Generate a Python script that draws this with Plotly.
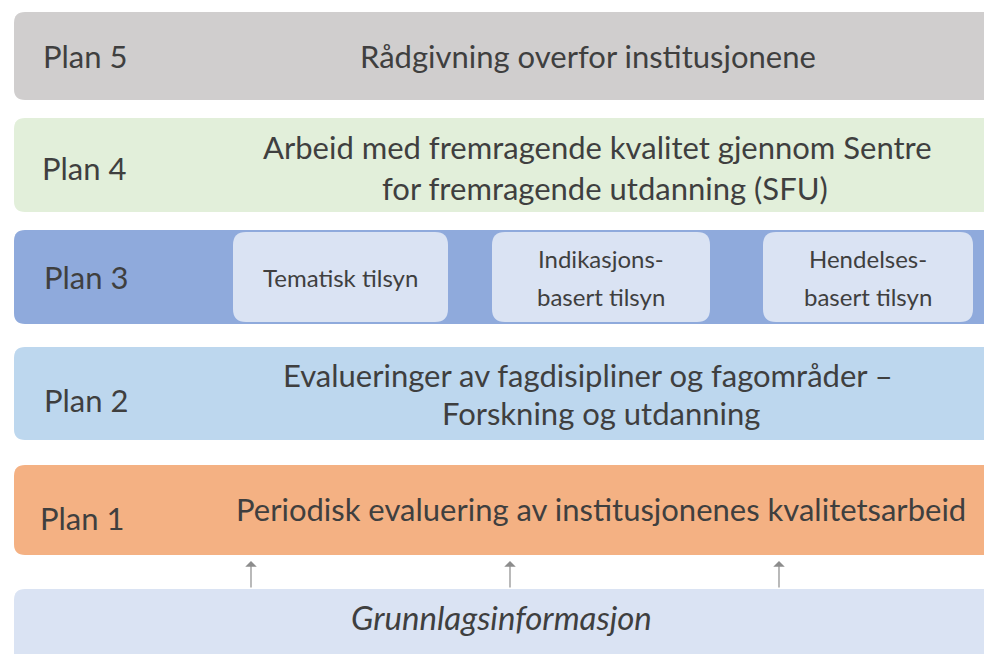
import plotly.graph_objects as go

# ---- content ----
plan_labels = ["Plan 5", "Plan 4", "Plan 3", "Plan 2", "Plan 1"]
plan_lines = [
    ["Rådgivning overfor institusjonene"],
    ["Arbeid med fremragende kvalitet gjennom Sentre", "for fremragende utdanning (SFU)"],
    [],
    ["Evalueringer av fagdisipliner og fagområder –", "Forskning og utdanning"],
    ["Periodisk evaluering av institusjonenes kvalitetsarbeid"],
]
plan3_items = [["Tematisk tilsyn"], ["Indikasjons-", "basert tilsyn"], ["Hendelses-", "basert tilsyn"]]
base_text = "Grunnlagsinformasjon"

# ---- styles / layout ----
row_colors = ["#D0CECE", "#E2EFDA", "#8FAADC", "#BDD7EE", "#F4B183"]
row_top = [12, 118, 230, 347, 465]
row_bot = [100, 212, 324, 440, 555]
label_x = [41, 40, 42, 42, 38]
label_y = [56, 168, 277, 400, 518]
line_pos = [
    [(588, 56)],
    [(597, 147), (605, 188)],
    [],
    [(588, 375), (601, 413)],
    [(601, 509)],
]
sub_x = [(233, 448), (492, 710), (763, 973)]
sub_y = (232, 322)
sub_color = "#DAE3F3"
base_box = (14, 589, 1000, 680)
arrow_x = [251, 510, 779]
arrow_y = (589, 561)
FONT = "Lato"
TXT = "#3F3F3F"


def rrect(x0, y0, x1, y1, r):
    return (f"M {x0+r},{y0} L {x1-r},{y0} Q {x1},{y0} {x1},{y0+r} "
            f"L {x1},{y1-r} Q {x1},{y1} {x1-r},{y1} L {x0+r},{y1} "
            f"Q {x0},{y1} {x0},{y1-r} L {x0},{y0+r} Q {x0},{y0} {x0+r},{y0} Z")


shapes = []
ann = []
for i, lab in enumerate(plan_labels):
    shapes.append(dict(type="path", path=rrect(14, row_top[i], 1000, row_bot[i], 11),
                       fillcolor=row_colors[i], line=dict(width=0), layer="below"))
    ann.append(dict(x=label_x[i], y=label_y[i], text=lab, xanchor="left", yanchor="middle",
                    showarrow=False, font=dict(family=FONT, size=31, color=TXT)))
    for txt, (cx, cy) in zip(plan_lines[i], line_pos[i]):
        ann.append(dict(x=cx, y=cy, text=txt, xanchor="center", yanchor="middle",
                        showarrow=False, font=dict(family=FONT, size=31, color=TXT)))

for (x0, x1), lines in zip(sub_x, plan3_items):
    shapes.append(dict(type="path", path=rrect(x0, sub_y[0], x1, sub_y[1], 13),
                       fillcolor=sub_color, line=dict(width=0)))
    cx = (x0 + x1) / 2
    cy = (sub_y[0] + sub_y[1]) / 2
    n = len(lines)
    for k, t in enumerate(lines):
        yy = cy + (k - (n - 1) / 2) * 38
        ann.append(dict(x=cx, y=yy, text=t, xanchor="center", yanchor="middle",
                        showarrow=False, font=dict(family=FONT, size=24, color=TXT)))

bx0, by0, bx1, by1 = base_box
shapes.append(dict(type="path", path=rrect(bx0, by0, bx1, by1, 11),
                   fillcolor=sub_color, line=dict(width=0), layer="below"))
ann.append(dict(x=501, y=617, text=f"<i>{base_text}</i>", xanchor="center", yanchor="middle",
                showarrow=False, font=dict(family=FONT, size=33, color=TXT)))

for ax in arrow_x:
    ann.append(dict(x=ax, y=arrow_y[1], ax=ax, ay=arrow_y[0], xref="x", yref="y",
                    axref="x", ayref="y", text="", showarrow=True, arrowhead=1,
                    arrowsize=1.6, arrowwidth=1.2, arrowcolor="#8C8C8C"))

fig = go.Figure()
fig.update_layout(
    width=984, height=654, autosize=False,
    margin=dict(l=0, r=0, t=0, b=0),
    paper_bgcolor="white", plot_bgcolor="white",
    xaxis=dict(range=[0, 984], visible=False, fixedrange=True),
    yaxis=dict(range=[654, 0], visible=False, fixedrange=True),
    shapes=shapes, annotations=ann, showlegend=False,
)
fig.write_html("out.html", config={"displayModeBar": False},
               post_script="document.body.style.margin='0';document.body.style.overflow='hidden';")
